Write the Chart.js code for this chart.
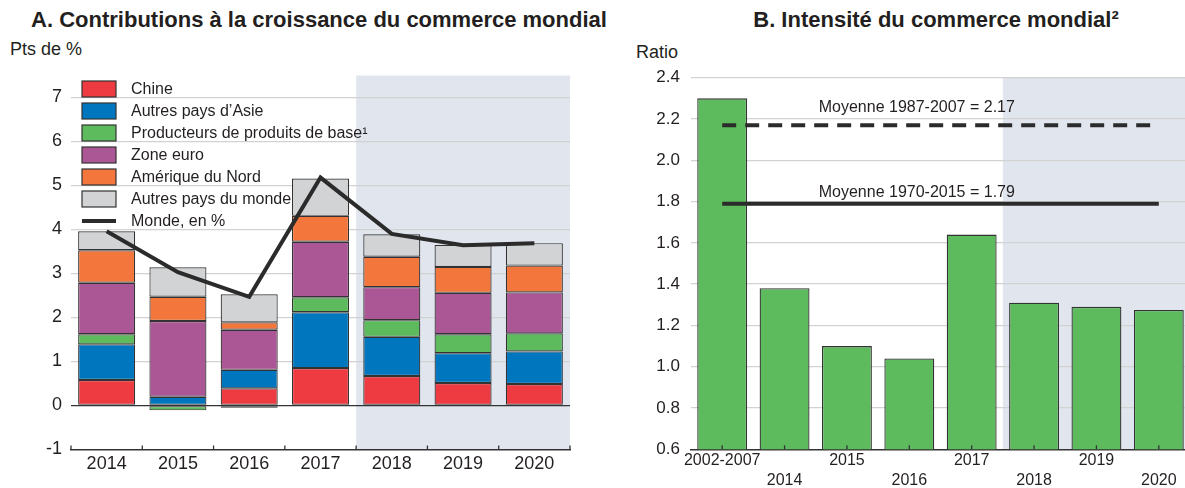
<!DOCTYPE html>
<html>
<head>
<meta charset="utf-8">
<script src="https://cdn.jsdelivr.net/npm/chart.js@4"></script>
<style>
  html, body { margin: 0; padding: 0; background: #fff; overflow: hidden; }
  body { width: 1185px; height: 488px; position: relative; font-family: "Liberation Sans", Arial, sans-serif; color: #231f20; }
  .title { position: absolute; top: 7px; font-weight: bold; font-size: 22px; white-space: nowrap; transform: translateX(-50%); }
  .unit { position: absolute; font-size: 18px; white-space: nowrap; }
  #wrapA { position: absolute; left: 0; top: 0; width: 600px; height: 488px; }
  #wrapB { position: absolute; left: 620px; top: 0; width: 575px; height: 488px; }
</style>
</head>
<body>
<div class="title" style="left:319px">A. Contributions à la croissance du commerce mondial</div>
<div class="title" style="left:936px">B. Intensité du commerce mondial²</div>
<div class="unit" style="left:10px; top:39px">Pts de %</div>
<div class="unit" style="left:636px; top:42px">Ratio</div>
<div id="wrapA"><canvas id="chartA"></canvas></div>
<div id="wrapB"><canvas id="chartB"></canvas></div>

<script>
// Panel A data
const years = ["2014", "2015", "2016", "2017", "2018", "2019", "2020"];
const chine = [0.58, 0, 0.39, 0.85, 0.67, 0.51, 0.49];
const autresAsie = [0.81, 0.2, 0.42, 1.27, 0.89, 0.68, 0.74];
const producteurs = [0.23, -0.11, -0.05, 0.34, 0.38, 0.43, 0.41];
const zoneEuro = [1.17, 1.72, 0.91, 1.26, 0.75, 0.94, 0.93];
const ameriqueNord = [0.74, 0.55, 0.17, 0.59, 0.69, 0.59, 0.61];
const autresMonde = [0.43, 0.67, 0.64, 0.85, 0.51, 0.5, 0.51];
const monde = [3.96, 3.03, 2.47, 5.18, 3.9, 3.64, 3.69];
const ticksA = [-1, 0, 1, 2, 3, 4, 5, 6, 7];

// Panel B data
const periods = ["2002-2007", "2014", "2015", "2016", "2017", "2018", "2019", "2020"];
const intensity = [2.3, 1.38, 1.1, 1.04, 1.64, 1.31, 1.29, 1.275];
const avg1987 = 2.17;
const avg1970 = 1.79;
const ticksB = [0.6, 0.8, 1.0, 1.2, 1.4, 1.6, 1.8, 2.0, 2.2, 2.4];

const FONT = "'Liberation Sans', Arial, sans-serif";
const INK = "#231f20";
const GRID = "#d2d2d2";
const SHADE = "#e1e6ee";
const EDGE = "#333333";

// projection area: from between 2017 and 2018 to the right edge
const shadePlugin = {
    id: "shade",
    beforeDraw(chart, args, opts) {
        const x = chart.scales.x;
        const area = chart.chartArea;
        const i = chart.data.labels.indexOf(opts.from);
        const left = (x.getPixelForValue(i - 1) + x.getPixelForValue(i)) / 2;
        const ctx = chart.ctx;
        ctx.save();
        ctx.fillStyle = SHADE;
        ctx.fillRect(left, area.top, area.right - left, area.bottom - area.top);
        ctx.restore();
    }
};

// small upward tick marks on the x axis
const tickMarkPlugin = {
    id: "tickMarks",
    afterDatasetsDraw(chart, args, opts) {
        const x = chart.scales.x;
        const area = chart.chartArea;
        const n = chart.data.labels.length;
        const ctx = chart.ctx;
        ctx.save();
        ctx.strokeStyle = EDGE;
        ctx.lineWidth = 1.3;
        for (let i = 0; i < n + (opts.between ? 1 : 0); i++) {
            let px;
            if (opts.between) {
                px = i === 0 ? area.left : i === n ? area.right
                    : (x.getPixelForValue(i - 1) + x.getPixelForValue(i)) / 2;
            } else {
                px = x.getPixelForValue(i);
            }
            ctx.beginPath();
            ctx.moveTo(px, area.bottom);
            ctx.lineTo(px, area.bottom - 4);
            ctx.stroke();
        }
        ctx.restore();
    }
};

// legend drawn inside the plot area of panel A
const legendPlugin = {
    id: "insideLegend",
    afterDatasetsDraw(chart) {
        const ctx = chart.ctx;
        ctx.save();
        ctx.font = "16px " + FONT;
        ctx.textBaseline = "middle";
        let y = 89;
        chart.data.datasets.slice().sort((a, b) => a.legendRank - b.legendRank).forEach(ds => {
            if (ds.type === "line") {
                ctx.strokeStyle = ds.borderColor;
                ctx.lineWidth = 4;
                ctx.beginPath();
                ctx.moveTo(82, y);
                ctx.lineTo(116, y);
                ctx.stroke();
            } else {
                ctx.fillStyle = ds.backgroundColor;
                ctx.fillRect(82, y - 8, 34, 16);
                ctx.strokeStyle = EDGE;
                ctx.lineWidth = 1.2;
                ctx.strokeRect(82, y - 8, 34, 16);
            }
            ctx.fillStyle = INK;
            ctx.fillText(ds.label, 131, y + 1);
            y += 22;
        });
        ctx.restore();
    }
};

// average labels above the reference lines in panel B
const avgLabelPlugin = {
    id: "avgLabels",
    afterDatasetsDraw(chart) {
        const x = chart.scales.x, y = chart.scales.y;
        const ctx = chart.ctx;
        const step = x.getPixelForValue(1) - x.getPixelForValue(0);
        const cx = x.getPixelForValue(3) + 0.12 * step;
        ctx.save();
        ctx.font = "16px " + FONT;
        ctx.fillStyle = INK;
        ctx.textAlign = "center";
        ctx.textBaseline = "middle";
        ctx.fillText("Moyenne 1987-2007 = " + avg1987.toFixed(2), cx, y.getPixelForValue(avg1987) - 18);
        ctx.fillText("Moyenne 1970-2015 = " + avg1970.toFixed(2), cx, y.getPixelForValue(avg1970) - 11);
        ctx.restore();
    }
};

function barSet(label, data, color, rank) {
    return {
        label: label,
        data: data,
        backgroundColor: color,
        borderColor: EDGE,
        borderWidth: 1.2,
        borderSkipped: false,
        barPercentage: 0.8,
        categoryPercentage: 1.0,
        stack: "contrib",
        order: 1,
        legendRank: rank
    };
}

new Chart(document.getElementById("chartA"), {
    type: "bar",
    data: {
        labels: years,
        datasets: [
            barSet("Chine", chine, "#ee3a41", 0),
            barSet("Autres pays d\u2019Asie", autresAsie, "#0076be", 1),
            barSet("Producteurs de produits de base\u00b9", producteurs, "#5dbb5d", 2),
            barSet("Zone euro", zoneEuro, "#ac5795", 3),
            barSet("Amérique du Nord", ameriqueNord, "#f3773d", 4),
            barSet("Autres pays du monde", autresMonde, "#d2d3d5", 5),
            {
                type: "line",
                label: "Monde, en %",
                data: monde,
                borderColor: "#2b2b2b",
                borderWidth: 4,
                pointRadius: 0,
                tension: 0,
                stack: "world",
                order: 0,
                legendRank: 6
            }
        ]
    },
    options: {
        responsive: true,
        maintainAspectRatio: false,
        animation: false,
        layout: { padding: { top: 75.5, right: 30, left: 0, bottom: 0 } },
        plugins: {
            legend: { display: false },
            tooltip: { enabled: false },
            shade: { from: "2018" },
            tickMarks: { between: true }
        },
        scales: {
            x: {
                stacked: true,
                grid: { display: false, drawTicks: false },
                border: { display: true, color: EDGE, width: 1.5 },
                ticks: { color: INK, font: { family: FONT, size: 18 }, padding: 4, maxRotation: 0 },
                afterFit(s) { s.height = 38.5; }
            },
            y: {
                stacked: true,
                min: -1,
                max: 7.5,
                afterBuildTicks(s) { s.ticks = ticksA.map(v => ({ value: v })); },
                grid: {
                    drawTicks: false,
                    lineWidth: 1.3,
                    color: c => c.tick && c.tick.value === 0 ? EDGE : c.tick && c.tick.value === -1 ? "rgba(0,0,0,0)" : GRID
                },
                border: { display: false },
                ticks: { color: INK, font: { family: FONT, size: 18 }, padding: 9 },
                afterFit(s) { s.width = 71; }
            }
        }
    },
    plugins: [shadePlugin, legendPlugin, tickMarkPlugin]
});

new Chart(document.getElementById("chartB"), {
    type: "bar",
    data: {
        labels: periods,
        datasets: [
            {
                label: "Moyenne 1987-2007",
                type: "line",
                data: [{ x: periods[0], y: avg1987 }, { x: periods[periods.length - 1], y: avg1987 }],
                borderColor: "#2b2b2b",
                borderWidth: 4,
                borderDash: [14, 9],
                pointRadius: 0,
                order: 0
            },
            {
                label: "Moyenne 1970-2015",
                type: "line",
                data: [{ x: periods[0], y: avg1970 }, { x: periods[periods.length - 1], y: avg1970 }],
                borderColor: "#2b2b2b",
                borderWidth: 4,
                pointRadius: 0,
                order: 0
            },
            {
                label: "Intensité",
                data: intensity,
                backgroundColor: "#5dbb5d",
                borderColor: EDGE,
                borderWidth: 1.3,
                borderSkipped: false,
                barPercentage: 0.8,
                categoryPercentage: 1.0,
                order: 1
            }
        ]
    },
    options: {
        responsive: true,
        maintainAspectRatio: false,
        animation: false,
        layout: { padding: { top: 77.7, right: 5, left: 0, bottom: 0 } },
        plugins: {
            legend: { display: false },
            tooltip: { enabled: false },
            shade: { from: "2018" },
            tickMarks: { between: false }
        },
        scales: {
            x: {
                grid: { display: false, drawTicks: false },
                border: { display: true, color: EDGE, width: 1.5 },
                ticks: {
                    color: INK,
                    font: { family: FONT, size: 16, lineHeight: 1.25 },
                    padding: 1,
                    maxRotation: 0,
                    autoSkip: false,
                    callback(value, index) {
                        const lbl = this.getLabelForValue(value);
                        return index % 2 ? ["", lbl] : lbl;
                    }
                },
                afterFit(s) { s.height = 38.7; }
            },
            y: {
                min: 0.6,
                max: 2.4,
                afterBuildTicks(s) { s.ticks = ticksB.map(v => ({ value: v })); },
                grid: {
                    drawTicks: false,
                    lineWidth: 1.3,
                    color: c => c.tick && Math.abs(c.tick.value - 0.6) < 1e-9 ? "rgba(0,0,0,0)" : GRID
                },
                border: { display: false },
                ticks: {
                    color: INK,
                    font: { family: FONT, size: 17 },
                    padding: 11,
                    callback: v => v.toFixed(1)
                },
                afterFit(s) { s.width = 71; }
            }
        }
    },
    plugins: [shadePlugin, tickMarkPlugin, avgLabelPlugin]
});
</script>
</body>
</html>
